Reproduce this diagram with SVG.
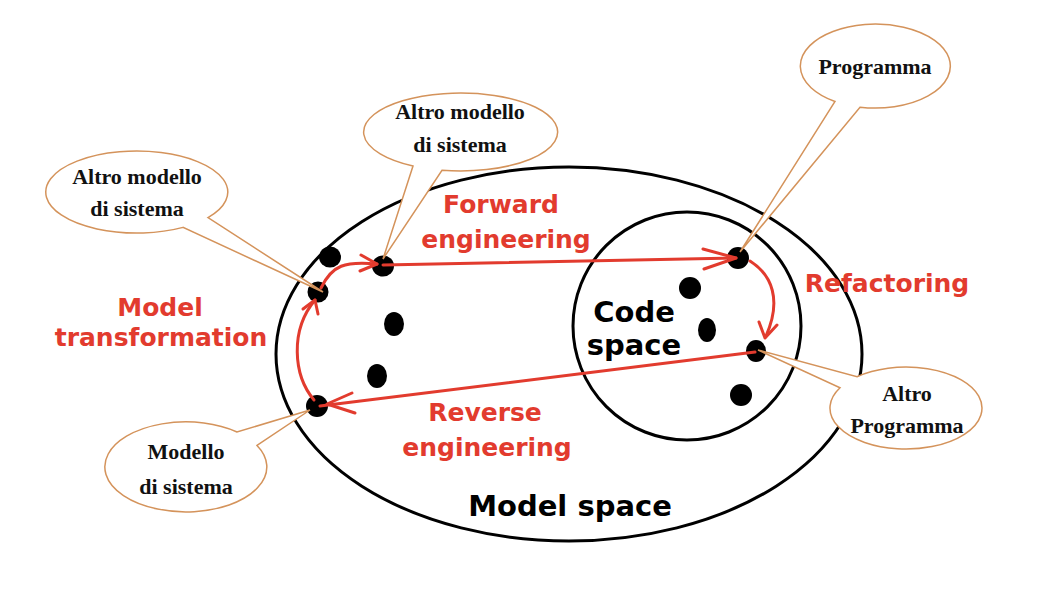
<svg xmlns="http://www.w3.org/2000/svg" width="1052" height="610" viewBox="0 0 1052 610">
  <defs>
    <style>
      .space { fill: none; stroke: #000; stroke-width: 3; }
      .dot { fill: #000; }
      .flow { fill: none; stroke: #e23b2e; stroke-width: 3; stroke-linecap: round; stroke-linejoin: round; }
      .callout { fill: #fff; stroke: #d4935b; stroke-width: 1.5; stroke-linejoin: miter; }
      .ctext { font-family: "Liberation Serif", "Times New Roman", serif; font-weight: bold; font-size: 22px; fill: #111; text-anchor: middle; }
      .rlabel { font-family: "DejaVu Sans", Verdana, sans-serif; font-weight: bold; font-size: 25px; fill: #e23b2e; text-anchor: middle; }
      .blabel { font-family: "DejaVu Sans", Verdana, sans-serif; font-weight: bold; font-size: 29px; fill: #000; text-anchor: middle; }
    </style>
  </defs>
  <rect width="1052" height="610" fill="#fff"/>

  <g id="model-space">
    <ellipse class="space" cx="569" cy="354" rx="293" ry="187"/>
    <text class="blabel" x="570" y="516">Model space</text>
  </g>

  <g id="code-space">
    <circle class="space" cx="687" cy="326" r="114"/>
    <text class="blabel" x="634" y="322">Code</text>
    <text class="blabel" x="634" y="355">space</text>
  </g>

  <g id="points">
    <ellipse class="dot" cx="330" cy="257" rx="11" ry="10.5"/>
    <ellipse class="dot" cx="318" cy="292" rx="10.5" ry="10.5"/>
    <ellipse class="dot" cx="383" cy="266" rx="11" ry="10.5"/>
    <ellipse class="dot" cx="394" cy="324" rx="10" ry="12"/>
    <ellipse class="dot" cx="377" cy="376" rx="10" ry="12"/>
    <ellipse class="dot" cx="317" cy="406" rx="11" ry="11"/>
    <ellipse class="dot" cx="738" cy="258" rx="11" ry="11"/>
    <ellipse class="dot" cx="690" cy="288" rx="11" ry="11"/>
    <ellipse class="dot" cx="707" cy="330" rx="9" ry="12"/>
    <ellipse class="dot" cx="756" cy="351" rx="10" ry="11"/>
    <ellipse class="dot" cx="741" cy="395" rx="11" ry="11"/>
  </g>

  <g id="connectors">
    <!-- Model transformation -->
    <path class="flow" d="M314,400 C293,375 290,330 315,300"/>
    <polyline class="flow" points="303,309 315,300 318,314"/>
    <path class="flow" d="M321,288 C332,265 345,261 377,264"/>
    <polyline class="flow" points="361,255 377,264 360,271"/>
    <!-- Forward engineering -->
    <path class="flow" d="M383,265 L736,258"/>
    <polyline class="flow" points="703,249 736,258 704,269"/>
    <!-- Refactoring -->
    <path class="flow" d="M750,261 C772,275 782,300 766,336"/>
    <polyline class="flow" points="759,322 765,338 777,325"/>
    <!-- Reverse engineering -->
    <path class="flow" d="M755,352 L320,406"/>
    <polyline class="flow" points="352,393 327,404 355,413"/>
  </g>

  <g id="labels">
    <text class="rlabel" x="501" y="213">Forward</text>
    <text class="rlabel" x="506" y="248">engineering</text>
    <text class="rlabel" x="160" y="316">Model</text>
    <text class="rlabel" x="161" y="346">transformation</text>
    <text class="rlabel" x="887" y="292">Refactoring</text>
    <text class="rlabel" x="485" y="421">Reverse</text>
    <text class="rlabel" x="487" y="456">engineering</text>
  </g>

  <g id="callout-altro-modello-left">
    <path class="callout" d="M208,217.6 A91,41 0 1 0 183,227.4 L323,292 Z"/>
    <text class="ctext" x="137" y="184">Altro modello</text>
    <text class="ctext" x="137" y="216">di sistema</text>
  </g>

  <g id="callout-altro-modello-top">
    <path class="callout" d="M442,170.3 A97,39 0 1 0 413,166 L383,259 Z"/>
    <text class="ctext" x="460" y="119">Altro modello</text>
    <text class="ctext" x="460" y="152">di sistema</text>
  </g>

  <g id="callout-programma">
    <path class="callout" d="M860,107.2 A75,42 0 1 0 835,101.5 L740,252 Z"/>
    <text class="ctext" x="875" y="74">Programma</text>
  </g>

  <g id="callout-altro-programma">
    <path class="callout" d="M857,376.7 A76,41 0 1 1 840,387.7 L758,350 Z"/>
    <text class="ctext" x="907" y="401">Altro</text>
    <text class="ctext" x="907" y="433">Programma</text>
  </g>

  <g id="callout-modello">
    <path class="callout" d="M237,432 A81,45 0 1 0 257,445.4 L310,410 Z"/>
    <text class="ctext" x="186" y="459">Modello</text>
    <text class="ctext" x="186" y="494">di sistema</text>
  </g>
</svg>
